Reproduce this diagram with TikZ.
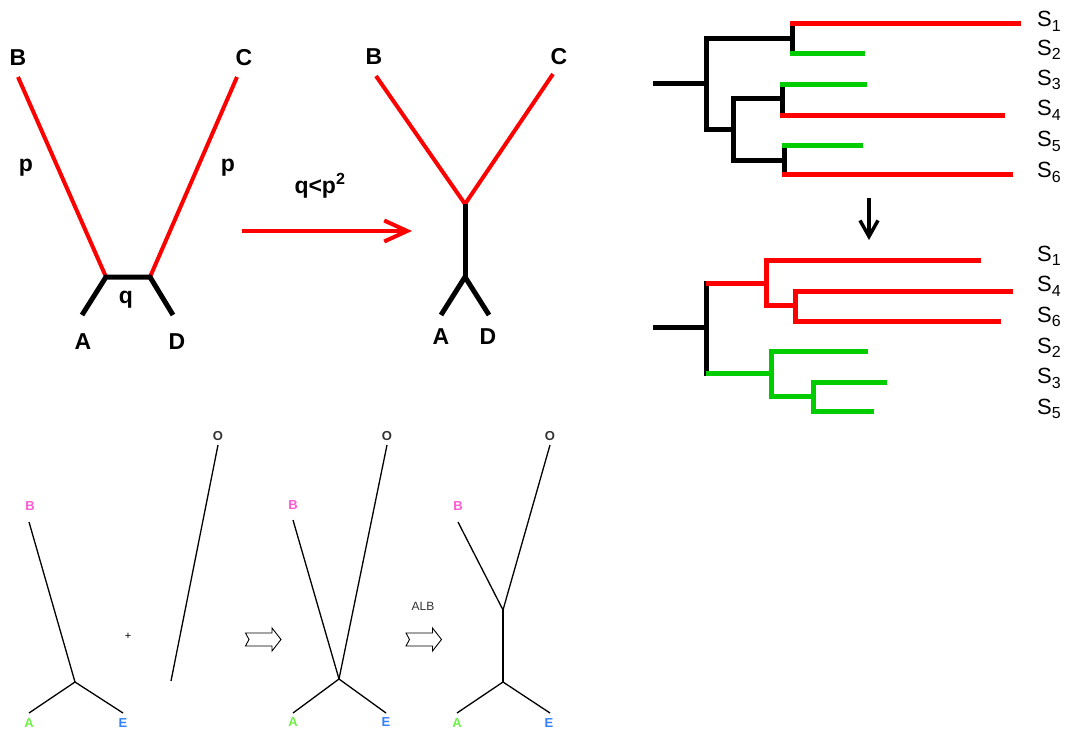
\documentclass[tikz,border=0pt]{standalone}
\usepackage{fontspec}
\setmainfont{Liberation Sans}
\usetikzlibrary{arrows.meta}
\definecolor{tred}{RGB}{255,0,0}
\definecolor{tgreen}{RGB}{0,204,0}
\definecolor{lpink}{RGB}{255,90,210}
\definecolor{lgreen}{RGB}{110,240,70}
\definecolor{lblue}{RGB}{50,130,255}
\definecolor{lgray}{RGB}{50,50,50}
\begin{document}
\begin{tikzpicture}[x=1pt,y=-1pt,
 big/.style={font=\fontsize{23}{23}\selectfont\bfseries, inner sep=0},
 slab/.style={font=\fontsize{22}{22}\selectfont, inner sep=0, anchor=base west},
 small/.style={font=\fontsize{13}{13}\selectfont\bfseries, inner sep=0},
 redline/.style={draw=tred, line width=4pt},
 blkline/.style={draw=black, line width=5pt, line join=miter},
 rtree/.style={draw=tred, line width=5pt, line cap=rect},
 gtree/.style={draw=tgreen, line width=5pt, line cap=rect},
 ktree/.style={draw=black, line width=5pt, line cap=rect},
 thinline/.style={draw=black, line width=1.3pt},
 hollow/.pic={\draw[line width=0.9pt, line join=miter] (0,0) -- (26.5,0) -- (26.5,-5) -- (35.5,6.5) -- (26.5,18) -- (26.5,13) -- (0,13) -- (3.5,6.5) -- cycle;}
 ]
\useasboundingbox[fill=white] (0,0) rectangle (1066,733);
\newcommand{\slabel}[1]{S\raisebox{-4.5pt}{\fontsize{16}{16}\selectfont #1}}
% ---------- panel 1
\coordinate (b1) at (18,77);
\coordinate (c1) at (237,77);
\coordinate (j1) at (106,277);
\coordinate (j2) at (150,277);
\coordinate (a1) at (82,315);
\coordinate (d1) at (173,315);
\draw[redline] (b1) -- (j1);
\draw[redline] (c1) -- (j2);
\draw[blkline] (a1) -- (j1) -- (j2) -- (d1);
\node[big] (lb1) at (18,58) {B};
\node[big] (lc1) at (244,58) {C};
\node[big] (la1) at (83,342) {A};
\node[big] (ld1) at (177,342) {D};
\node[big] (lq1) at (126,300) {q};
\node[big] (lp1) at (26,168) {p};
\node[big] (lp2) at (228,168) {p};
% arrow
\coordinate (ar1) at (242,231);
\coordinate (ar2) at (412,231);
\draw[redline, -{Straight Barb[length=23pt,width=21pt]}] (ar1) -- (ar2);
\node[big] (lqp) at (320,186) {q<p\textsuperscript{2}};
% ---------- panel 2
\coordinate (b2) at (376,76);
\coordinate (c2) at (553,74);
\coordinate (m2) at (465,204);
\coordinate (n2) at (465,277);
\coordinate (a2) at (441,315);
\coordinate (d2) at (489,315);
\draw[redline, line join=bevel] (b2) -- (m2) -- (c2);
\draw[blkline] (m2) -- (n2);
\draw[blkline] (a2) -- (n2) -- (d2);
\node[big] (lb2) at (374,57) {B};
\node[big] (lc2) at (559,57) {C};
\node[big] (la2) at (441,337) {A};
\node[big] (ld2) at (488,337) {D};
% ---------- top right tree
\draw[ktree] (655,84) -- (706,84);
\draw[ktree] (706,39) -- (706,130);
\draw[ktree] (706,39) -- (792,39);
\draw[ktree] (792,24) -- (792,54);
\draw[rtree] (792,24) -- (1018,24);
\draw[gtree] (792,54) -- (862,54);
\draw[ktree] (706,130) -- (733,130);
\draw[ktree] (733,99) -- (733,161);
\draw[ktree] (733,99) -- (782,99);
\draw[ktree] (782,85) -- (782,115);
\draw[gtree] (782,85) -- (864,85);
\draw[rtree] (782,116) -- (1002,116);
\draw[ktree] (733,161) -- (784,161);
\draw[ktree] (784,146) -- (784,175);
\draw[gtree] (784,146) -- (860,146);
\draw[rtree] (784,175) -- (1010,175);
\node[slab] (s1a) at (1037,27) {\slabel{1}};
\node[slab] (s2a) at (1037,55.5) {\slabel{2}};
\node[slab] (s3a) at (1037,85.5) {\slabel{3}};
\node[slab] (s4a) at (1037,116) {\slabel{4}};
\node[slab] (s5a) at (1037,147) {\slabel{5}};
\node[slab] (s6a) at (1037,178) {\slabel{6}};
% down arrow
\coordinate (da1) at (869,198);
\coordinate (da2) at (869,240);
\draw[line width=3.5pt, -{Straight Barb[length=16pt,width=18pt]}] (da1) -- (da2);
% ---------- bottom right tree
\draw[ktree] (655,327) -- (706,327);
\draw[ktree] (706,283) -- (706,373);
\draw[rtree] (708,283) -- (766,283);
\draw[rtree] (766,260) -- (766,305);
\draw[rtree] (766,260) -- (978,260);
\draw[rtree] (766,305) -- (795,305);
\draw[rtree] (795,291) -- (795,321);
\draw[rtree] (795,291) -- (1010,291);
\draw[rtree] (795,321) -- (998,321);
\draw[gtree] (708,373) -- (771,373);
\draw[gtree] (771,351) -- (771,396);
\draw[gtree] (771,351) -- (865,351);
\draw[gtree] (771,396) -- (813,396);
\draw[gtree] (813,382) -- (813,411);
\draw[gtree] (813,382) -- (884,382);
\draw[gtree] (813,411) -- (871,411);
\node[slab] (s1b) at (1037,261) {\slabel{1}};
\node[slab] (s4b) at (1037,291.5) {\slabel{4}};
\node[slab] (s6b) at (1037,322) {\slabel{6}};
\node[slab] (s2b) at (1037,353) {\slabel{2}};
\node[slab] (s3b) at (1037,383.5) {\slabel{3}};
\node[slab] (s5b) at (1037,414) {\slabel{5}};
% ---------- bottom: tree 1
\coordinate (t1b) at (29,522);
\coordinate (t1j) at (75,682);
\coordinate (t1a) at (29,713);
\coordinate (t1e) at (123,713);
\draw[thinline] (t1b) -- (t1j);
\draw[thinline] (t1a) -- (t1j) -- (t1e);
\node[small, text=lpink] (t1lb) at (30,506) {B};
\node[small, text=lgreen] (t1la) at (29,723) {A};
\node[small, text=lblue] (t1le) at (123,723) {E};
\node[inner sep=0, font=\fontsize{11}{11}\selectfont] (plus) at (128,636) {+};
\coordinate (t0o) at (218,445);
\coordinate (t0e) at (171,681);
\draw[thinline] (t0o) -- (t0e);
\node[small, text=lgray] (t0lo) at (218,436) {O};
\pic at (245.5,633) {hollow};
% ---------- bottom: tree 2
\coordinate (t2b) at (293,520);
\coordinate (t2o) at (387,445);
\coordinate (t2j) at (339,679);
\coordinate (t2a) at (293,713);
\coordinate (t2e) at (386,713);
\draw[thinline] (t2b) -- (t2j);
\draw[thinline] (t2o) -- (t2j);
\draw[thinline] (t2a) -- (t2j) -- (t2e);
\node[small, text=lpink] (t2lb) at (293,505) {B};
\node[small, text=lgray] (t2lo) at (387,436) {O};
\node[small, text=lgreen] (t2la) at (293,722) {A};
\node[small, text=lblue] (t2le) at (386,722) {E};
\node[inner sep=0, font=\fontsize{12}{12}\selectfont, text=lgray] (alb) at (423,606) {ALB};
\pic at (406,633) {hollow};
% ---------- bottom: tree 3
\coordinate (t3b) at (458,522);
\coordinate (t3o) at (550,445);
\coordinate (t3u) at (503,610);
\coordinate (t3l) at (503,682);
\coordinate (t3a) at (457,713);
\coordinate (t3e) at (550,713);
\draw[thinline] (t3b) -- (t3u) -- (t3o);
\draw[thinline] (t3u) -- (t3l);
\draw[thinline] (t3a) -- (t3l) -- (t3e);
\node[small, text=lpink] (t3lb) at (458,506) {B};
\node[small, text=lgray] (t3lo) at (550,436) {O};
\node[small, text=lgreen] (t3la) at (457,723) {A};
\node[small, text=lblue] (t3le) at (549,723) {E};
\end{tikzpicture}
\end{document}
